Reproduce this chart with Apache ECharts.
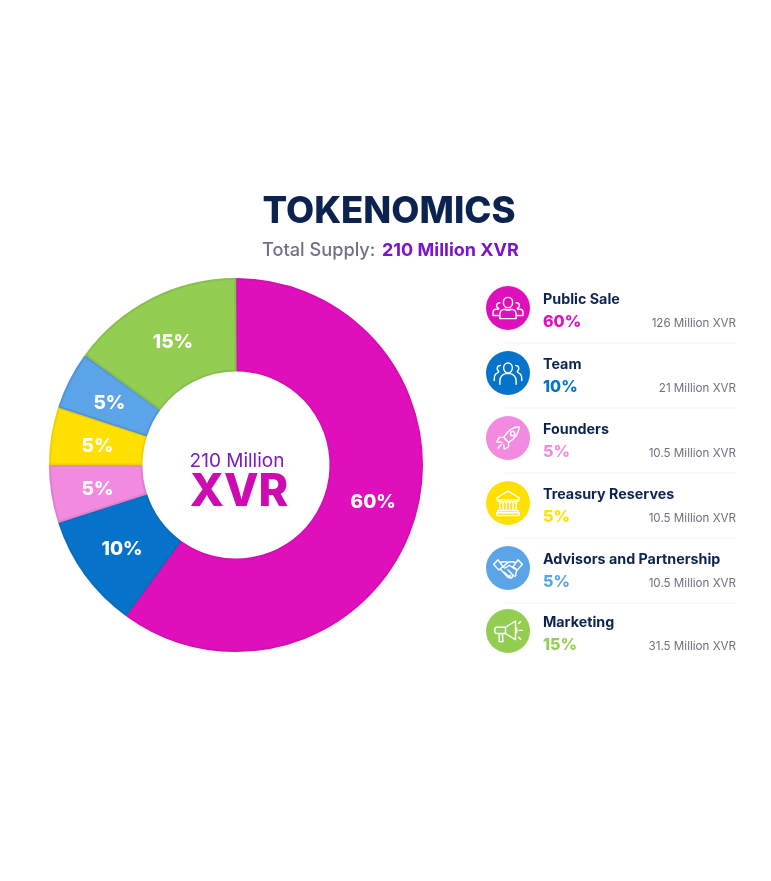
<!DOCTYPE html>
<html><head><meta charset="utf-8">
<style>html,body{margin:0;padding:0;background:#fff}#c{width:771px;height:881px}</style>
<script src="https://cdn.jsdelivr.net/npm/echarts@6/dist/echarts.min.js"></script>
</head><body><div id="c"></div>
<script>
const categories = ['Public Sale','Team','Founders','Treasury Reserves','Advisors and Partnership','Marketing'];
const shares = [60,10,5,5,5,15];
const amounts = ['126 Million XVR','21 Million XVR','10.5 Million XVR','10.5 Million XVR','10.5 Million XVR','31.5 Million XVR'];
const colors = ['#E00FBC','#0473C9','#F28BDF','#FFE000','#5CA4E8','#93CE52'];
const edgeColors = ['#D40FB2','#0A6CBB','#E07FCE','#F0D000','#4F94D6','#86BF4C'];
const rowY = [308,373,438,503,568,631];
const labelNudgeX = [1,2,3,3,1,2];
const labelNudgeY = [-7,0,2,4,3,5];
const FONT = 'Inter, sans-serif';
const NAVY = '#0C2350';
const icons = [
 'M12 3.5c2.2 0 3.7 1.8 3.7 4s-1.5 4.2-3.7 4.2-3.7-2-3.7-4.2 1.5-4 3.7-4zM5.5 20.5v-3.5c0-2.5 2-4 4-4 1.5.8 3.5.8 5 0 2 0 4 1.5 4 4v3.5zM5.5 7.8a2.3 2.3 0 0 0-1.2 4.4c.8.4-.3 1-.3 1M18.5 7.8a2.3 2.3 0 0 1 1.2 4.4c-.8.4.3 1 .3 1M4 13H2.5A2.5 2.5 0 0 0 0 15.5V18h5.5M20 13h1.5A2.5 2.5 0 0 1 24 15.5V18h-5.500',
 'M12 4c2.1 0 3.5 1.7 3.5 3.8s-1.4 4.2-3.5 4.2-3.5-2.1-3.5-4.2S9.9 4 12 4zM5.5 21v-3c0-3 2.5-5.5 5-5.5h3c2.5 0 5 2.5 5 5.5v3M5.8 6a2.4 2.4 0 0 0-1.5 4.3c.5.5.2 1.2-.3 1.4C2 12.5 1 14.5 1 16.5V18M18.2 6a2.4 2.4 0 0 1 1.5 4.3c-.5.5-.2 1.2.3 1.4 2 .8 3 2.8 3 4.8V18',
 'M21 3c-6 .3-9.5 3.5-12.5 8.500l4 4c5-3 8.2-6.500 8.500-12.500zM8.500 11.500H5L3 15l4 .5M12.500 15.500V19l-3.500 2-.5-4M6.500 17.500L4 20M14 8.500a1.700 1.700 0 1 0 3.400 0a1.700 1.700 0 1 0-3.400 0',
 'M12 2.500L3 8v1.500h18V8zM4.500 9.500v1.500h15V9.500M5.500 11v7h2.500v-7M10.700 11v7h2.600v-7M16 11v7h2.500v-7M4 18h16v1.800H4zM3 19.800h18V22H3z',
 'M0.500 9L4 5.500 8 11 4.500 13.500zM23.500 9L20 5.500 16 11 19.500 13.500zM6 7.500C9 7 10 6.500 12 7.500L8.800 10.300c-.9.9.4 2.200 1.400 1.500L13 9.800l6.200 4.200M12 7.500c2-1 4-.5 6.300.2M6 13l5.500 6c1.200 1.200 2.800 0 2-1.200M9 15.500l4.500 4.200c1 .9 2.500-.3 1.800-1.500M12 13.500l4.500 4.700c1 .9 2.400-.5 1.600-1.500L19 14',
 'M3 9h7l8-5v15l-8-5H3a1.500 1.500 0 0 1-1.500-1.500v-2A1.500 1.500 0 0 1 3 9zM10 9v5M18 9c1.500.5 1.500 4.500 0 5M5 14v6.500h3L7.500 14M20.500 6L22 4.500M21 11.500h2.500M20.500 17l1.500 1.500'
];
icons.forEach((d,i)=>echarts.graphic.registerShape('tokenIcon'+i, echarts.graphic.extendPath(d,{})));

const graphic = [
  {type:'text',x:389,y:212,style:{text:'TOKENOMICS',font:'800 36.5px '+FONT,fill:NAVY,align:'center',verticalAlign:'middle'}},
  {type:'text',x:262,y:251,style:{text:'Total Supply: ',font:'500 18.2px '+FONT,fill:'#6F6F85',verticalAlign:'middle'}},
  {type:'text',x:382,y:251,style:{text:'210 Million XVR',font:'700 18px '+FONT,fill:'#7C14CC',verticalAlign:'middle'}},
  {type:'text',x:237,y:461,style:{text:'210 Million',font:'400 19px '+FONT,fill:'#7A1CC0',align:'center',verticalAlign:'middle'}},
  {type:'text',x:239,y:492,style:{text:'XVR',font:'800 45px '+FONT,fill:'#CC0CB0',align:'center',verticalAlign:'middle'}}
];
categories.forEach((name,i)=>{
  const y = rowY[i];
  graphic.push({type:'circle',shape:{cx:508,cy:y,r:22},style:{fill:colors[i]}});
  graphic.push({type:'tokenIcon'+i,x:508-15,y:y-15,scaleX:1.25,scaleY:1.25,style:{fill:'none',stroke:'#fff',lineWidth:1.15,lineJoin:'round',lineCap:'round'}});
  graphic.push({type:'text',x:543,y:y-8,style:{text:name,font:'700 14.3px '+FONT,fill:NAVY,verticalAlign:'middle'}});
  graphic.push({type:'text',x:543,y:y+14,style:{text:shares[i]+'%',font:'800 16px '+FONT,fill:colors[i],verticalAlign:'middle'}});
  graphic.push({type:'text',x:736,y:y+16,style:{text:amounts[i],font:'400 11.6px '+FONT,fill:'#70707F',align:'right',verticalAlign:'middle'}});
  if(i<categories.length-1) graphic.push({type:'line',shape:{x1:505,y1:y+35,x2:736,y2:y+35},style:{stroke:'#F3F3F6',lineWidth:1}});
});

const chart = echarts.init(document.getElementById('c'),null,{renderer:'canvas'});
chart.setOption({
  animation:false,
  backgroundColor:'#fff',
  series:[{
    type:'pie',
    center:[236,465],
    radius:[94.5,186],
    startAngle:90,
    clockwise:true,
    padAngle:0.5,
    avoidLabelOverlap:false,
    silent:true,
    label:{show:true,position:'inside',formatter:p=>p.value+'%',color:'#fff',fontFamily:FONT,fontWeight:800,fontSize:19},
    labelLine:{show:false},
    labelLayout:p=>({dx:labelNudgeX[p.dataIndex],dy:labelNudgeY[p.dataIndex]}),
    data:categories.map((name,i)=>({name,value:shares[i],itemStyle:{color:colors[i],borderColor:edgeColors[i],borderWidth:2}}))
  }],
  graphic:{elements:graphic}
});
</script></body></html>
